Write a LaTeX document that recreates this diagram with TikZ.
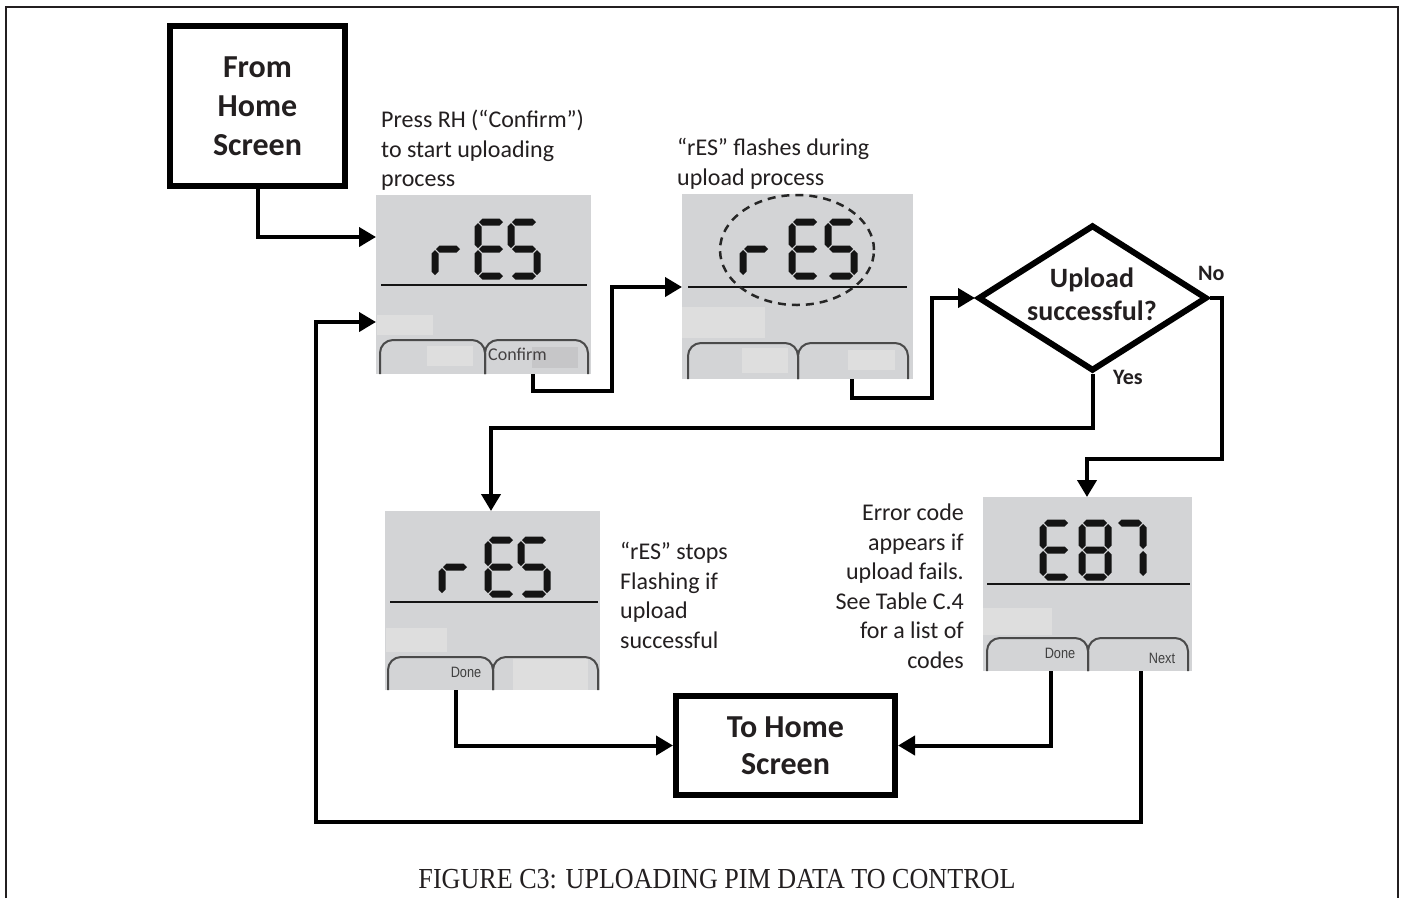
\documentclass[tikz,border=0pt]{standalone}
\usepackage{fontspec}
\setmainfont{Carlito}
\newfontfamily\capfont{Liberation Serif}
\newfontfamily\arialfont{Liberation Sans}
\usetikzlibrary{arrows.meta,shapes.geometric}
\definecolor{framec}{HTML}{231F20}
\definecolor{txtc}{HTML}{231F20}
\definecolor{scrc}{HTML}{D3D4D6}
\definecolor{lightc}{HTML}{DEDEDE}
\definecolor{darkrc}{HTML}{C6C6C8}
\definecolor{segc}{HTML}{141414}
\definecolor{tabc}{HTML}{4A4A4A}
\newcommand{\hsg}[3]{\fill[segc] (#1+1,#3) -- (#1+4.5,#3-3.5) -- (#2-4.5,#3-3.5) -- (#2-1,#3) -- (#2-4.5,#3+3.5) -- (#1+4.5,#3+3.5) -- cycle;}
\newcommand{\vsg}[3]{\fill[segc] (#1,#2+1) -- (#1+3.5,#2+4.5) -- (#1+3.5,#3-4.5) -- (#1,#3-1) -- (#1-3.5,#3-4.5) -- (#1-3.5,#2+4.5) -- cycle;}
\newcommand{\sgA}{\hsg{0}{26}{0}}
\newcommand{\sgB}{\vsg{26}{0}{27}}
\newcommand{\sgC}{\vsg{26}{27}{54}}
\newcommand{\sgD}{\hsg{0}{26}{54}}
\newcommand{\sgE}{\vsg{0}{27}{54}}
\newcommand{\sgF}{\vsg{0}{0}{27}}
\newcommand{\sgG}{\hsg{0}{26}{27}}
\newcommand{\digR}[2]{\begin{scope}[shift={(#1,#2)}]\sgE\sgG\end{scope}}
\newcommand{\digE}[2]{\begin{scope}[shift={(#1,#2)}]\sgA\sgD\sgE\sgF\sgG\end{scope}}
\newcommand{\digS}[2]{\begin{scope}[shift={(#1,#2)}]\sgA\sgF\sgG\sgC\sgD\end{scope}}
\newcommand{\digEight}[2]{\begin{scope}[shift={(#1,#2)}]\sgA\sgB\sgC\sgD\sgE\sgF\sgG\end{scope}}
\newcommand{\digSeven}[2]{\begin{scope}[shift={(#1,#2)}]\sgA\sgB\sgC\end{scope}}
\newcommand{\scrtab}[4]{\draw[tabst] (#1,#4) -- (#1,#3) -- (#2,#3) -- (#2,#4);}
\tikzset{
  screen/.style={fill=scrc, draw=none, inner sep=0pt, outer sep=0pt},
  bigbox/.style={draw=black, line width=6pt, fill=white, align=center, text=txtc,
    font=\bfseries\fontsize{32}{39}\selectfont, inner sep=0pt},
  conn/.style={line width=4pt, draw=black, -{Triangle[length=17pt,width=19pt]}},
  txt/.style={text=txtc, font=\fontsize{24}{29.5}\selectfont, inner sep=0pt},
  lbl/.style={text=txtc, font=\bfseries\fontsize{22}{26}\selectfont, inner sep=0pt},
  tabst/.style={draw=tabc, line width=2pt, rounded corners=13pt},
  uline/.style={draw=segc, line width=2pt},
  small/.style={text=txtc!85, font=\fontsize{18}{18}\selectfont, inner sep=0pt},
  btn/.style={text=black!75, font=\arialfont\fontsize{15}{15}\selectfont, inner sep=0pt, xscale=0.85},
}
\begin{document}
\begin{tikzpicture}[x=1pt,y=-1pt]
\useasboundingbox (0,0) rectangle (1403,898);
\fill[white] (0,0) rectangle (1403,898);
% outer frame
\draw[framec, line width=2.5pt] (6,898) -- (6,7) -- (1398,7) -- (1398,898);

% ---------- boxes ----------
\node[bigbox, minimum width=175pt, minimum height=160pt] (fh) at (257.5,106) {From\\Home\\Screen};
\node[bigbox, minimum width=219pt, minimum height=99pt, font=\bfseries\fontsize{32}{37}\selectfont] (th) at (785.5,745.5) {To Home\\Screen};
\node[draw=black, line width=6pt, diamond, minimum width=229pt, minimum height=146pt, inner sep=0pt] (dm) at (1092.5,298) {};
\node[text=txtc, font=\bfseries\fontsize{28}{33}\selectfont, align=center, inner sep=0pt] (dmt) at (1092,294) {Upload\\successful?};
\node[lbl, anchor=west] (no) at (1198,273) {No};
\node[lbl, anchor=west] (yes) at (1113,377) {Yes};

% ---------- screen 1 ----------
\node[screen, minimum width=215pt, minimum height=179pt] (s1) at (483.5,284.5) {};
\fill[lightc] (377,315) rectangle (433,335);
\digR{435}{222}\digE{478}{222}\digS{511}{222}
\draw[uline] (381,285) -- (587,285);
\fill[lightc] (427,346) rectangle (473,366);
\fill[darkrc] (532,347) rectangle (578,368);
\scrtab{380}{485}{340}{374}
\scrtab{485}{588}{340}{374}
\node[small, anchor=west] (cf) at (488,354) {Confirm};
\coordinate (s1in) at (376,237);
\coordinate (s1loop) at (376,322);
\coordinate (s1out) at (533,374);

% ---------- screen 2 ----------
\node[screen, minimum width=231pt, minimum height=185pt] (s2) at (797.5,286.5) {};
\fill[lightc] (682,307) rectangle (765,338);
\digR{743}{222}\digE{792}{222}\digS{828}{222}
\draw[uline] (688,287) -- (907,287);
\draw[black!85, line width=2.5pt, dash pattern=on 8pt off 6pt] (797,250) ellipse [x radius=77pt, y radius=55pt];
\fill[lightc] (742,348) rectangle (788,373);
\fill[lightc] (848,350) rectangle (895,370);
\scrtab{688}{798}{343}{379}
\scrtab{798}{908}{343}{379}
\coordinate (s2in) at (682,287);
\coordinate (s2out) at (852,379);

% ---------- screen 3 ----------
\node[screen, minimum width=215pt, minimum height=179pt] (s3) at (492.5,600.5) {};
\fill[lightc] (386,628) rectangle (447,652);
\digR{442}{540}\digE{488}{540}\digS{521}{540}
\draw[uline] (390,602) -- (598,602);
\fill[lightc] (513,659) rectangle (588,690);
\scrtab{388}{493}{657}{690}
\scrtab{493}{598}{657}{690}
\node[btn] (d3) at (466,672) {Done};
\coordinate (s3in) at (491,511);
\coordinate (s3out) at (456,690);

% ---------- screen 4 ----------
\node[screen, minimum width=209pt, minimum height=174pt] (s4) at (1087.5,584) {};
\fill[lightc] (983,608) rectangle (1052,635);
\digE{1043}{523}\digEight{1082}{523}\digSeven{1117}{523}
\draw[uline] (987,584) -- (1190,584);
\scrtab{987}{1088}{638}{671}
\scrtab{1088}{1188}{638}{671}
\node[btn] (d4) at (1060,653) {Done};
\node[btn] (n4) at (1162,658) {Next};
\coordinate (s4in) at (1087,497);
\coordinate (s4done) at (1051,671);
\coordinate (s4next) at (1141,671);

% ---------- texts ----------
\node[txt, anchor=north west, align=left] (t1) at (381,107) {\strut Press RH (“Confirm”)\\to start uploading\\process};
\node[txt, anchor=north west, align=left] (t2) at (677,135) {\strut “rES” flashes during\\upload process};
\node[txt, anchor=north west, align=left] (t3) at (620,539) {\strut “rES” stops\\Flashing if\\upload\\successful};
\node[txt, anchor=north east, align=right] (t4) at (964,500) {\strut Error code\\appears if\\upload fails.\\See Table C.4\\for a list of\\codes};

% ---------- connectors ----------
\draw[conn] (fh.south) |- (s1in);
\draw[conn] (s1out) -- (533,391) -| (612,287) -- (s2in);
\draw[conn] (s2out) -- (852,398) -| (932,298) -- (dm.west);
\draw[conn] (dm.south) -- (1092.5,428) -| (s3in);
\draw[conn] (dm.east) -- (1222,298) -- (1222,459) -| (s4in);
\draw[conn] (s3out) |- (th.west);
\draw[conn] (s4done) |- (th.east);
\draw[conn] (s4next) -- (1141,822) -| (316,322) -- (s1loop);

% ---------- caption ----------
\node[text=txtc, font=\capfont\fontsize{29}{29}\selectfont, xscale=0.9, inner sep=0pt] (cap) at (717,879) {FIGURE C3: UPLOADING PIM DATA TO CONTROL};
\end{tikzpicture}
\end{document}
